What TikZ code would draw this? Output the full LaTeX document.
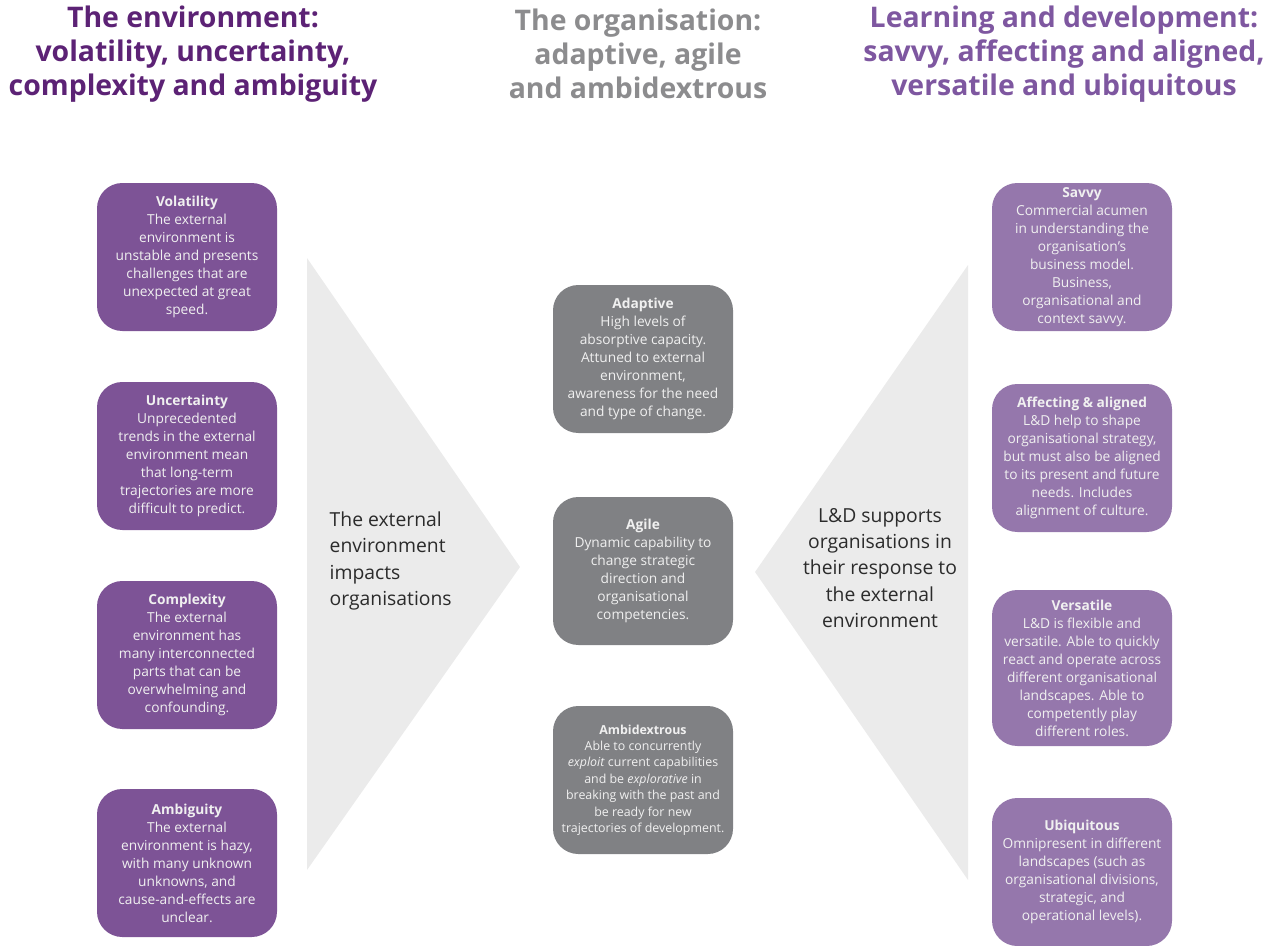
\documentclass[tikz,border=0pt]{standalone}
\usepackage{fontspec}
\setmainfont{Open Sans}
\definecolor{envpurple}{HTML}{5C2275}
\definecolor{orggrey}{HTML}{8C8C8E}
\definecolor{ldpurple}{HTML}{7E57A0}
\definecolor{envbox}{HTML}{7D5396}
\definecolor{orgbox}{HTML}{808184}
\definecolor{ldbox}{HTML}{9577AC}
\definecolor{arrowgrey}{HTML}{EBEBEB}
\definecolor{bodytext}{HTML}{2B2B2B}
\begin{document}
\begin{tikzpicture}[x=0.75pt,y=-0.75pt,
  heading/.style={align=center,font=\fontsize{21.3}{25.3}\selectfont\bfseries},
  card/.style={rounded corners=19pt,minimum width=135pt,minimum height=111pt,
    inner sep=0pt,align=center,text=white!94!black,
    font=\fontsize{10.3}{13.5}\selectfont},
  envcard/.style={card,fill=envbox},
  orgcard/.style={card,fill=orgbox},
  ldcard/.style={card,fill=ldbox},
  small/.style={font=\fontsize{9.3}{12.3}\selectfont},
  flowtext/.style={text=bodytext,font=\fontsize{14.5}{19.8}\selectfont}]
\useasboundingbox (0,0) rectangle (1280,945);

% headings
\node[heading,text=envpurple] (h1) at (193,54) {The environment:\\volatility, uncertainty,\\complexity and ambiguity};
\node[heading,text=orggrey] (h2) at (638,54) {The organisation:\\adaptive, agile\\and ambidextrous};
\node[heading,text=ldpurple] (h3) at (1064,54) {Learning and development:\\savvy, affecting and aligned,\\versatile and ubiquitous};

% big grey arrows
\fill[arrowgrey] (307,258) -- (520,567) -- (307,870) -- cycle;
\fill[arrowgrey] (968,265) -- (755,572) -- (968,880) -- cycle;

\node[flowtext,align=left,anchor=west] (t1) at (325,561)
  {The external\\environment\\impacts\\organisations};
\node[flowtext,align=center] (t2) at (880,568)
  {L\&D supports\\organisations in\\their response to\\the external\\environment};

% environment column
\node[envcard] (vol) at (187,257) {\textbf{Volatility}\\The external\\environment is\\unstable and presents\\challenges that are\\unexpected at great\\speed.};
\node[envcard] (unc) at (187,456) {\textbf{Uncertainty}\\Unprecedented\\trends in the external\\environment mean\\that long-term\\trajectories are more\\difficult to predict.};
\node[envcard] (cpx) at (187,655) {\textbf{Complexity}\\The external\\environment has\\many interconnected\\parts that can be\\overwhelming and\\confounding.};
\node[envcard] (amb) at (187,863) {\textbf{Ambiguity}\\The external\\environment is hazy,\\with many unknown\\unknowns, and\\cause-and-effects are\\unclear.};

% organisation column
\node[orgcard] (adp) at (643,359) {\textbf{Adaptive}\\High levels of\\absorptive capacity.\\Attuned to external\\environment,\\awareness for the need\\and type of change.};
\node[orgcard] (agl) at (643,571) {\textbf{Agile}\\Dynamic capability to\\change strategic\\direction and\\organisational\\competencies.};
\node[orgcard,small] (amx) at (643,780) {\textbf{Ambidextrous}\\Able to concurrently\\\textit{exploit} current capabilities\\and be \textit{explorative} in\\breaking with the past and\\be ready for new\\trajectories of development.};

% learning and development column
\node[ldcard] (sav) at (1082,257) {\textbf{Savvy}\\Commercial acumen\\in understanding the\\organisation's\\business model.\\Business,\\organisational and\\context savvy.};
\node[ldcard] (aff) at (1082,458) {\textbf{Affecting \& aligned}\\L\&D help to shape\\organisational strategy,\\but must also be aligned\\to its present and future\\needs. Includes\\alignment of culture.};
\node[ldcard,minimum height=117pt] (ver) at (1082,668) {\textbf{Versatile}\\L\&D is flexible and\\versatile. Able to quickly\\react and operate across\\different organisational\\landscapes. Able to\\competently play\\different roles.};
\node[ldcard] (ubq) at (1082,872) {\textbf{Ubiquitous}\\Omnipresent in different\\landscapes (such as\\organisational divisions,\\strategic, and\\operational levels).};
\end{tikzpicture}
\end{document}
